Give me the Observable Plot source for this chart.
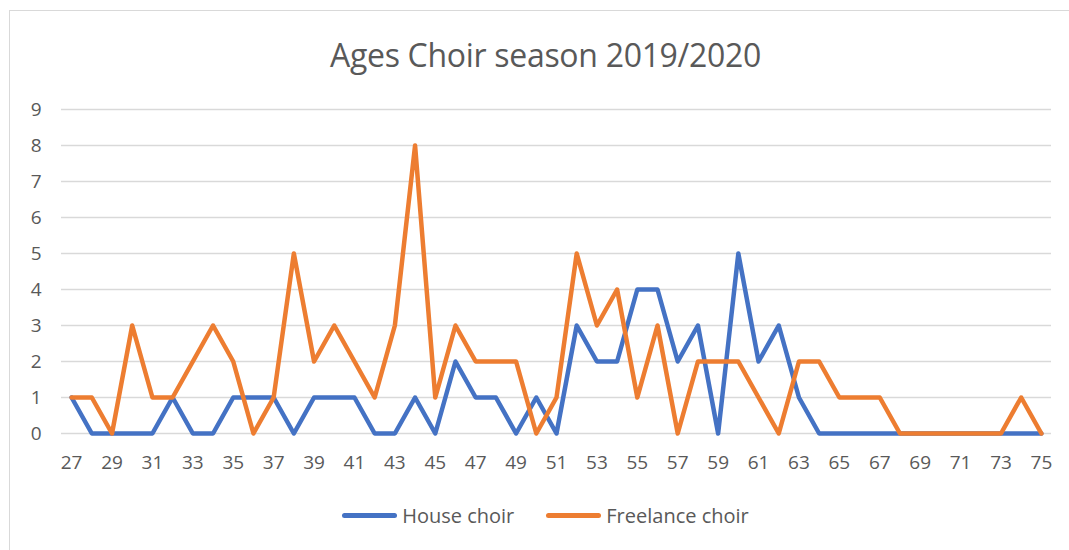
<!DOCTYPE html>
<html>
<head>
<meta charset="utf-8">
<script src="https://cdn.jsdelivr.net/npm/d3@7"></script>
<script src="https://cdn.jsdelivr.net/npm/@observablehq/plot@0.6"></script>
<style>
  body { margin: 0; background: #fff; font-family: "Open Sans", sans-serif; }
  #wrap { position: relative; width: 1069px; height: 550px; overflow: hidden; }
  #frame { position: absolute; left: 9px; top: 10px; width: 1100px; height: 600px; border-left: 1.5px solid #d9d9d9; border-top: 1.5px solid #d9d9d9; }
  #title { position: absolute; left: 0; width: 1091px; top: 33px; text-align: center; font-size: 32px; line-height: 44px; color: #595959; letter-spacing: -0.3px; }
  #chart { position: absolute; left: 0; top: 0; }
  #legend { position: absolute; top: 502px; left: 0; width: 1091px; display: flex; justify-content: center; gap: 32px; font-size: 20px; color: #595959; }
  .item { display: flex; align-items: center; gap: 5px; }
  .sw { width: 55px; height: 5px; border-radius: 3px; }
</style>
</head>
<body>
<div id="wrap">
  <div id="frame"></div>
  <div id="chart"></div>
  <div id="title">Ages Choir season 2019/2020</div>
  <div id="legend"></div>
</div>
<script>
const ages = d3.range(27, 76);
const houseChoir = [1,0,0,0,0,1,0,0,1,1,1,0,1,1,1,0,0,1,0,2,1,1,0,1,0,3,2,2,4,4,2,3,0,5,2,3,1,0,0,0,0,0,0,0,0,0,0,0,0];
const freelanceChoir = [1,1,0,3,1,1,2,3,2,0,1,5,2,3,2,1,3,8,1,3,2,2,2,0,1,5,3,4,1,3,0,2,2,2,1,0,2,2,1,1,1,0,0,0,0,0,0,1,0];
const seriesNames = ["House choir", "Freelance choir"];
const colors = ["#4472C4", "#ED7D31"];
const xTicks = d3.range(27, 76, 2);
const yTicks = d3.range(0, 10);

const rows = [];
ages.forEach((a, i) => {
  rows.push({age: a, count: houseChoir[i], series: seriesNames[0]});
  rows.push({age: a, count: freelanceChoir[i], series: seriesNames[1]});
});

const plot = Plot.plot({
  width: 1069,
  height: 490,
  marginLeft: 61,
  marginRight: 18,
  marginTop: 109,
  marginBottom: 57,
  style: {fontFamily: "Open Sans, sans-serif", fontSize: "19px", color: "#595959", background: "transparent"},
  x: {domain: [26.5, 75.5], ticks: xTicks, tickFormat: d => String(d), tickSize: 0, tickPadding: 22, label: null},
  y: {domain: [0, 9], ticks: yTicks, tickSize: 0, tickPadding: 20, label: null},
  color: {domain: seriesNames, range: colors},
  marks: [
    Plot.gridY(yTicks, {stroke: "#d9d9d9", strokeOpacity: 1, strokeWidth: 1.5}),
    Plot.axisX({ticks: xTicks, tickSize: 0, tickPadding: 22, tickFormat: d => String(d), fill: "#595959", label: null}),
    Plot.axisY({ticks: yTicks, tickSize: 0, tickPadding: 20, fill: "#595959", label: null}),
    Plot.lineY(rows, {x: "age", y: "count", z: "series", stroke: "series", strokeWidth: 4.5, strokeLinejoin: "round", strokeLinecap: "round"})
  ]
});
document.getElementById("chart").appendChild(plot);

const legend = document.getElementById("legend");
seriesNames.forEach((n, i) => {
  const it = document.createElement("div");
  it.className = "item";
  it.innerHTML = `<span class="sw" style="background:${colors[i]}"></span><span>${n}</span>`;
  legend.appendChild(it);
});
</script>
</body>
</html>
